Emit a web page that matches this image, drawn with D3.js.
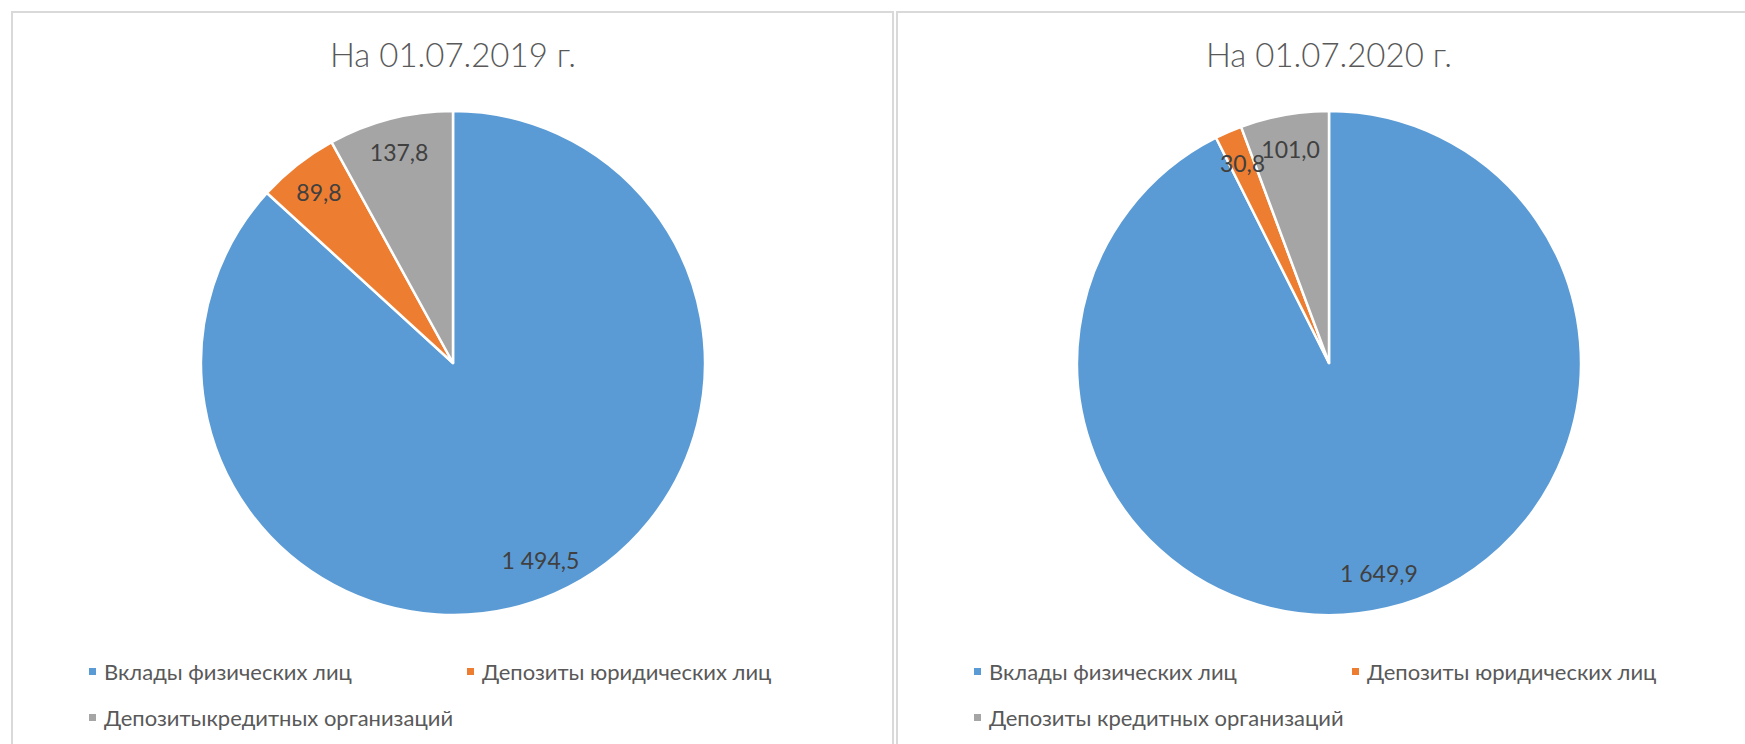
<!DOCTYPE html>
<html>
<head>
<meta charset="utf-8">
<script src="https://cdn.jsdelivr.net/npm/d3@7"></script>
<style>
  body { margin: 0; background: #fff; }
  svg { display: block; font-family: Lato, "Open Sans", sans-serif; }
</style>
</head>
<body>
<div id="graph"></div>
<script>
// data
var titles = ["На 01.07.2019 г.", "На 01.07.2020 г."];
var categories = ["Вклады физических лиц", "Депозиты юридических лиц", "Депозиты кредитных организаций"];
var legend2019 = ["Вклады физических лиц", "Депозиты юридических лиц", "Депозитыкредитных организаций"];
var legend2020 = ["Вклады физических лиц", "Депозиты юридических лиц", "Депозиты кредитных организаций"];
var values2019 = [1494.5, 89.8, 137.8];
var values2020 = [1649.9, 30.8, 101.0];

var colors = ["#5B9BD5", "#ED7D31", "#A5A5A5"];

var W = 1745, H = 744;

var svg = d3.select("#graph")
  .append("svg")
    .attr("width", W)
    .attr("height", H);

var ru = d3.formatLocale({decimal: ",", thousands: " ", grouping: [3], currency: ["", ""]});
var fmt = ru.format(",.1f");

// panels: x, width, pie center x
var panels = [
  {x: 12, w: 881, cx: 453, title: titles[0], values: values2019, legend: legend2019},
  {x: 897, w: 860, cx: 1329, title: titles[1], values: values2020, legend: legend2020}
];

var r = 252, cy = 363;

var pie = d3.pie().sort(null).value(function(d) { return d; });
var arc = d3.arc().innerRadius(0).outerRadius(r);
var labelArc = d3.arc().innerRadius(r * 0.72).outerRadius(r);

panels.forEach(function(p) {
  svg.append("rect")
    .attr("x", p.x)
    .attr("y", 12)
    .attr("width", p.w)
    .attr("height", H + 20)
    .attr("fill", "#fff")
    .attr("stroke", "#d9d9d9")
    .attr("stroke-width", 2);

  svg.append("text")
    .attr("x", p.cx)
    .attr("y", 67)
    .attr("text-anchor", "middle")
    .style("font-size", "33px")
    .style("font-weight", 300)
    .style("fill", "#595959")
    .text(p.title);

  var g = svg.append("g")
    .attr("transform", "translate(" + p.cx + "," + cy + ")");

  var arcs = pie(p.values);

  g.selectAll("path")
    .data(arcs)
    .enter()
    .append("path")
      .attr("d", arc)
      .attr("fill", function(d, i) { return colors[i]; })
      .attr("stroke", "#fff")
      .attr("stroke-width", 2.5)
      .attr("stroke-linejoin", "round");

  g.selectAll("text.lbl")
    .data(arcs)
    .enter()
    .append("text")
      .attr("class", "lbl")
      .attr("transform", function(d) { return "translate(" + labelArc.centroid(d) + ")"; })
      .attr("text-anchor", "middle")
      .attr("dy", "0.35em")
      .style("font-size", "23px")
      .style("fill", "#404040")
      .text(function(d) { return fmt(d.data); });

  // legend: two items on the first row, third one below
  var cols = [p.x + 77, p.x + 455];
  var rows = [672, 718];
  var pos = [[0, 0], [1, 0], [0, 1]];
  var lg = svg.append("g");
  p.legend.forEach(function(name, i) {
    var lx = cols[pos[i][0]], ly = rows[pos[i][1]];
    lg.append("rect")
      .attr("x", lx)
      .attr("y", ly - 4)
      .attr("width", 7)
      .attr("height", 7)
      .attr("fill", colors[i]);
    lg.append("text")
      .attr("x", lx + 15)
      .attr("y", ly)
      .attr("dy", "0.35em")
      .style("font-size", "22px")
      .style("fill", "#595959")
      .text(name);
  });
});
</script>
</body>
</html>
